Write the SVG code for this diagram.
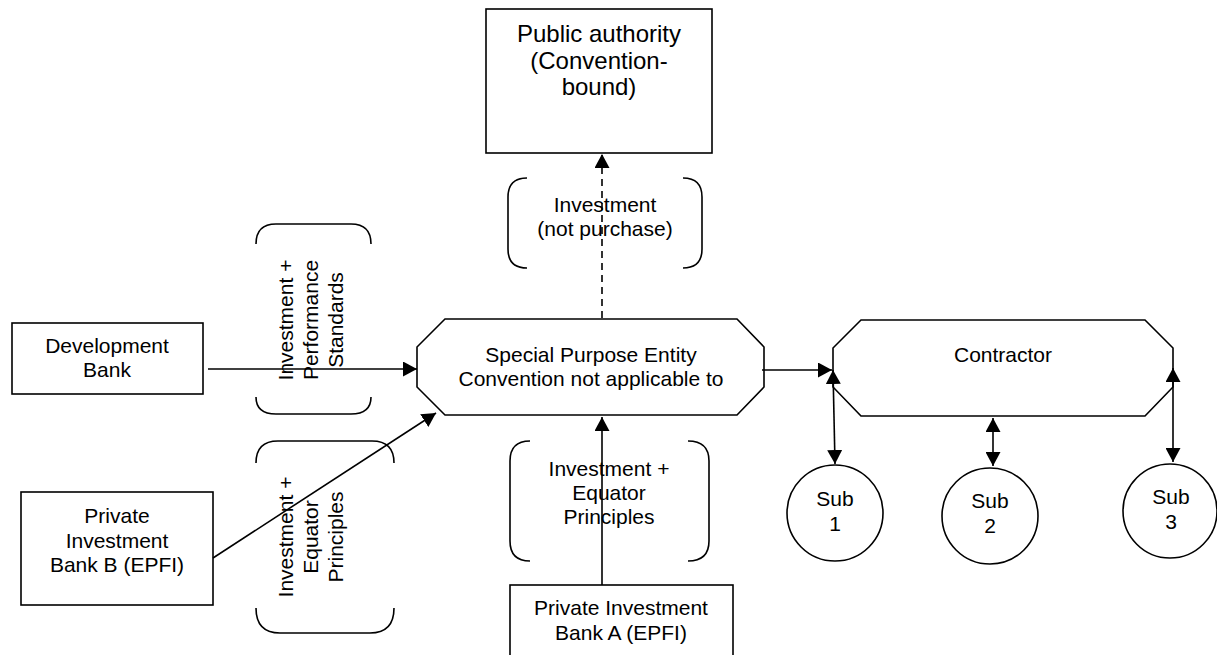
<svg xmlns="http://www.w3.org/2000/svg" width="1217" height="655" viewBox="0 0 1217 655">
<style>
text{font-family:"Liberation Sans",Arial,sans-serif;font-size:21px;fill:#000;text-anchor:middle}
.big{font-size:24px}
.shape{fill:#fff;stroke:#000;stroke-width:1.6}
.br{fill:none;stroke:#000;stroke-width:1.6}
.c{fill:none;stroke:#000;stroke-width:1.6}
.dash{stroke-dasharray:7 5}
</style>
<defs>
<marker id="ah" viewBox="0 0 14 15" refX="14" refY="7.5" markerWidth="14" markerHeight="15" markerUnits="userSpaceOnUse" orient="auto-start-reverse">
<path d="M0,0 L14,7.5 L0,15 z" fill="#000"/>
</marker>
</defs>
<rect width="1217" height="655" fill="#fff"/>

<g id="public-authority">
<rect class="shape" x="486" y="9" width="226" height="144"/>
<text class="big" x="599" y="42">Public authority</text>
<text class="big" x="599" y="69">(Convention-</text>
<text class="big" x="599" y="95">bound)</text>
</g>

<g id="label-not-purchase">
<path class="br" d="M527,178 Q508,178 508,197 L508,249 Q508,268 527,268"/>
<path class="br" d="M683,178 Q702,178 702,197 L702,249 Q702,268 683,268"/>
<text x="605" y="212">Investment</text>
<text x="605" y="236">(not purchase)</text>
</g>

<g id="label-performance">
<path class="br" d="M256,244 Q256,224 276,224 L351,224 Q371,224 371,244"/>
<path class="br" d="M256,397 Q256,414 276,414 L351,414 Q371,414 371,397"/>
<text transform="translate(293,320) rotate(-90)"><tspan x="0" y="0">Investment +</tspan><tspan x="0" y="25">Performance</tspan><tspan x="0" y="50">Standards</tspan></text>
</g>

<g id="label-equator-b">
<path class="br" d="M256,463 Q256,441 278,441 L372,441 Q394,441 394,463"/>
<path class="br" d="M256,608 Q256,633 280,633 L370,633 Q394,633 394,608"/>
<text transform="translate(293,537) rotate(-90)"><tspan x="0" y="0">Investment +</tspan><tspan x="0" y="25">Equator</tspan><tspan x="0" y="50">Principles</tspan></text>
</g>

<g id="label-equator-a">
<path class="br" d="M530,441 Q510,441 510,461 L510,541 Q510,561 530,561"/>
<path class="br" d="M688,441 Q709,441 709,461 L709,541 Q709,561 688,561"/>
<text x="609" y="476">Investment +</text>
<text x="609" y="500">Equator</text>
<text x="609" y="524">Principles</text>
</g>

<g id="development-bank">
<rect class="shape" x="12" y="323" width="191" height="71"/>
<text x="107" y="353">Development</text>
<text x="107" y="377">Bank</text>
</g>

<g id="private-bank-b">
<rect class="shape" x="21" y="492" width="192" height="113"/>
<text x="117" y="523">Private</text>
<text x="117" y="548">Investment</text>
<text x="117" y="572">Bank B (EPFI)</text>
</g>

<g id="private-bank-a">
<rect class="shape" x="510" y="585" width="223" height="80"/>
<text x="621" y="615">Private Investment</text>
<text x="621" y="640">Bank A (EPFI)</text>
</g>

<g id="spe">
<polygon class="shape" points="445,319 737,319 764,347 764,387 737,415 445,415 417,387 417,347"/>
<text x="591" y="362">Special Purpose Entity</text>
<text x="591" y="386">Convention not applicable to</text>
</g>

<g id="contractor">
<polygon class="shape" points="861,320 1145,320 1173,348 1173,387 1145,416 861,416 833,387 833,348"/>
<text x="1003" y="362">Contractor</text>
</g>

<g id="sub1">
<circle class="shape" cx="835" cy="513" r="48"/>
<text x="835" y="506">Sub</text>
<text x="835" y="531">1</text>
</g>
<g id="sub2">
<circle class="shape" cx="990" cy="516" r="48"/>
<text x="990" y="508">Sub</text>
<text x="990" y="533">2</text>
</g>
<g id="sub3">
<circle class="shape" cx="1170" cy="511" r="47"/>
<text x="1171" y="504">Sub</text>
<text x="1171" y="529">3</text>
</g>

<g id="connectors">
<line class="c dash" x1="602" y1="318" x2="602" y2="154" marker-end="url(#ah)"/>
<line class="c" x1="208" y1="369" x2="417" y2="369" marker-end="url(#ah)"/>
<line class="c" x1="213" y1="558" x2="436" y2="413" marker-end="url(#ah)"/>
<line class="c" x1="602" y1="585" x2="602" y2="417" marker-end="url(#ah)"/>
<line class="c" x1="762" y1="370" x2="832" y2="370" marker-end="url(#ah)"/>
<line class="c" x1="833" y1="370" x2="835" y2="464" marker-start="url(#ah)" marker-end="url(#ah)"/>
<line class="c" x1="993" y1="418" x2="993" y2="466" marker-start="url(#ah)" marker-end="url(#ah)"/>
<line class="c" x1="1173" y1="368" x2="1173" y2="462" marker-start="url(#ah)" marker-end="url(#ah)"/>
</g>
</svg>
